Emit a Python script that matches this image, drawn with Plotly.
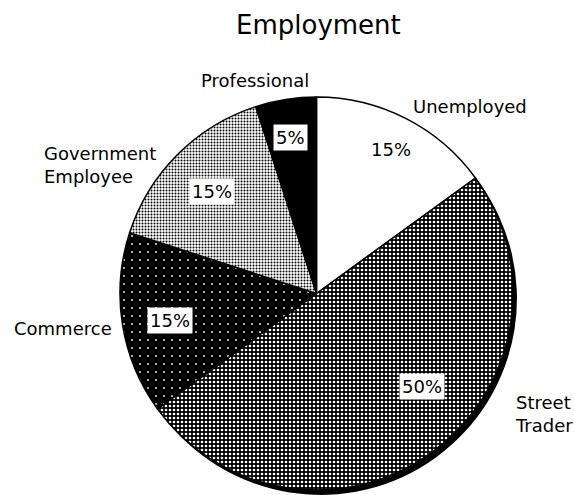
import plotly.graph_objects as go

# ---- data ----
categories = ["Unemployed", "Street Trader", "Commerce", "Government Employee", "Professional"]
shares = [15, 50, 15, 15, 5]
label_texts = ["Unemployed", "Street<br>Trader", "Commerce", "Government<br>Employee", "Professional"]
title_text = "Employment"

# ---- layout helpers (pixel -> paper) ----
W, H = 574, 495
def px(x):
    return x / W
def py(y):
    return 1 - y / H

FONT = "DejaVu Sans"

# pie geometry (pixels): left, top, diameter; shadow offset
PL, PT, D = 120, 97, 393
SX, SY = 4, 5

fig = go.Figure()

# shadow pie behind (gives the thick dark rim on the lower right)
fig.add_trace(go.Pie(
    labels=categories,
    values=shares,
    sort=False,
    direction="clockwise",
    rotation=0,
    textinfo="none",
    hoverinfo="skip",
    showlegend=False,
    domain=dict(x=[px(PL + SX), px(PL + SX + D)], y=[py(PT + SY + D), py(PT + SY)]),
    marker=dict(colors=["black"] * len(shares), line=dict(color="black", width=0)),
))

fig.add_trace(go.Pie(
    labels=categories,
    values=shares,
    sort=False,
    direction="clockwise",
    rotation=0,
    textinfo="none",
    hoverinfo="label+percent",
    showlegend=False,
    domain=dict(x=[px(PL), px(PL + D)], y=[py(PT + D), py(PT)]),
    marker=dict(
        colors=["white", "#444444", "#111111", "#aaaaaa", "black"],
        line=dict(color="black", width=1.5),
        pattern=dict(
            shape=["", ".", ".", ".", ""],
            fgcolor=["black", "white", "white", "black", "black"],
            bgcolor=["white", "black", "black", "white", "black"],
            size=[8, 4, 8, 3, 8],
            solidity=[0.3, 0.35, 0.04, 0.35, 0.3],
        ),
    ),
))

annotations = []
# outside category labels: (x, y, xanchor)
label_pos = [(470, 106, "center"), (513, 414, "left"), (12, 328, "left"), (42, 165, "left"), (255, 80, "center")]
for txt, (x, y, xa) in zip(label_texts, label_pos):
    annotations.append(dict(
        x=px(x), y=py(y), xref="paper", yref="paper", text=txt, showarrow=False,
        xanchor=xa, yanchor="middle", align="left",
        font=dict(family=FONT, size=18, color="black"),
    ))

# percentage labels inside slices: (x, y, boxed)
pct_pos = [(391, 150, False), (422, 386, True), (170, 320, True), (212, 191, True), (290, 137, True)]
for v, (x, y, boxed) in zip(shares, pct_pos):
    annotations.append(dict(
        x=px(x), y=py(y), xref="paper", yref="paper", text=f"{v}%", showarrow=False,
        xanchor="center", yanchor="middle",
        bgcolor="white" if boxed else None, borderpad=2,
        font=dict(family=FONT, size=18, color="black"),
    ))

annotations.append(dict(
    x=px(318), y=py(25), xref="paper", yref="paper", text=title_text, showarrow=False,
    xanchor="center", yanchor="middle",
    font=dict(family=FONT, size=26, color="black"),
))

fig.update_layout(
    width=W, height=H,
    margin=dict(l=0, r=0, t=0, b=0),
    paper_bgcolor="white",
    plot_bgcolor="white",
    annotations=annotations,
)

fig.write_html(
    "out.html",
    config={"displayModeBar": False},
    post_script="document.body.style.margin='0';document.body.style.overflow='hidden';",
)
